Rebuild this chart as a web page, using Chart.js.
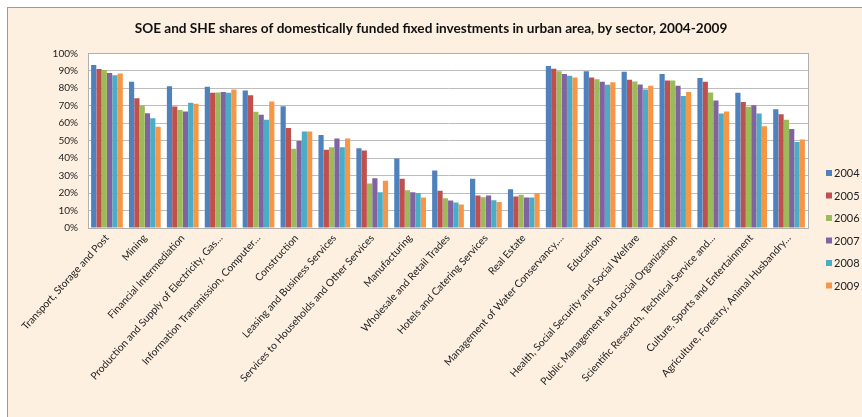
<!DOCTYPE html>
<html><head><meta charset="utf-8">
<script src="https://cdn.jsdelivr.net/npm/chart.js@4/dist/chart.umd.min.js"></script>
<style>
html,body{margin:0;padding:0;background:#fff;width:862px;height:417px;overflow:hidden}
#frame{position:absolute;left:7px;top:7px;width:870px;height:430px;background:#FDF0E1;border-left:1.5px solid #9a9a9a;border-top:1.5px solid #9a9a9a}
#wrap{position:absolute;left:0;top:0;width:862px;height:417px}
</style></head><body>
<div id="frame"></div>
<div id="wrap"><canvas id="c" width="862" height="417"></canvas></div>
<script>
const categories = ["Transport, Storage and Post","Mining","Financial Intermediation","Production and Supply of Electricity, Gas…","Information Transmission, Computer…","Construction","Leasing and Business Services","Services to Households and Other Services","Manufacturing","Wholesale and Retail Trades","Hotels and Catering Services","Real Estate","Management of Water Conservancy,…","Education","Health, Social Security and Social Welfare","Public Management and Social Organization","Scientific Research, Technical Service and…","Culture, Sports and Entertainment","Agriculture, Forestry, Animal Husbandry…"];
const years = ["2004","2005","2006","2007","2008","2009"];
const y2004 = [93.3,83.7,81.2,80.8,78.7,69.7,53.3,45.6,39.8,32.9,28.2,22.2,92.7,89.8,89.5,88.1,85.8,77.4,68.0];
const y2005 = [91.0,74.3,69.5,77.4,76.0,57.3,44.8,44.4,28.2,21.3,18.6,18.0,91.2,86.2,84.9,84.5,83.7,72.2,65.1];
const y2006 = [90.4,70.1,67.6,77.6,66.5,45.4,46.2,25.5,21.6,17.0,17.6,19.0,89.8,85.1,83.9,84.5,77.6,69.4,61.9];
const y2007 = [88.7,65.7,66.7,77.8,64.9,49.8,51.3,28.5,20.5,15.7,18.6,17.4,88.1,83.7,82.2,81.4,73.0,70.3,56.7];
const y2008 = [87.5,62.8,71.7,77.4,61.9,55.3,46.2,20.5,20.1,14.6,15.9,17.4,87.2,82.0,79.3,75.5,65.5,65.5,49.3];
const y2009 = [88.5,58.0,71.1,79.3,72.4,55.3,51.3,27.0,17.4,13.4,14.9,20.1,86.2,83.5,81.4,77.8,66.7,58.2,50.7];
const yTicks = [0,10,20,30,40,50,60,70,80,90,100];
const colors = ["#4F81BD","#C0504D","#9BBB59","#8064A2","#4BACC6","#F79646"];
const series = [y2004,y2005,y2006,y2007,y2008,y2009];

// right-side legend box taking part in Chart.js layout
const sideLegend = {
  id:'sideLegend',
  beforeInit(chart){
    const box = {
      position:'right', weight:1000, fullSize:false, options:{},
      isHorizontal(){ return false; },
      update(maxWidth, maxHeight){ this.width = 54; this.height = maxHeight; return {width:54, height:maxHeight}; },
      getPadding(){ return {top:0,left:0,right:0,bottom:0}; },
      draw(){
        const ctx = chart.ctx;
        ctx.save();
        ctx.font='11px Lato'; ctx.textBaseline='middle';
        chart.data.datasets.forEach((ds,i)=>{
          const cy = 173 + i*22.5;
          ctx.fillStyle = ds.backgroundColor;
          ctx.fillRect(this.left+18, cy-3, 6, 6);
          ctx.fillStyle='#222';
          ctx.fillText(ds.label, this.left+26, cy+0.5);
        });
        ctx.restore();
      }
    };
    Chart.layouts.addBox(chart, box);
  }
};

const plotBg = {
  id:'plotBg',
  beforeDraw(chart){
    const {ctx, chartArea:a} = chart;
    ctx.save(); ctx.fillStyle='#fff'; ctx.fillRect(a.left,a.top,a.right-a.left,a.bottom-a.top); ctx.restore();
  },
  afterDraw(chart){
    const {ctx, chartArea:a} = chart;
    ctx.save(); ctx.strokeStyle='#b0b0b0'; ctx.lineWidth=1;
    ctx.strokeRect(Math.round(a.left)+0.5,Math.round(a.top)+0.5,Math.round(a.right-a.left),Math.round(a.bottom-a.top));
    ctx.restore();
  }
};

new Chart(document.getElementById('c'), {
  type:'bar',
  data:{
    labels: categories,
    datasets: series.map((s,i)=>({label: years[i], data: s, backgroundColor: colors[i], borderWidth:0, categoryPercentage:0.84, barPercentage:0.98}))
  },
  options:{
    responsive:false, animation:false,
    layout:{padding:{left:0,right:0,top:0,bottom:0}},
    plugins:{
      legend:{display:false},
      tooltip:{enabled:false},
      title:{display:true, text:'SOE and SHE shares of domestically funded fixed investments in urban area, by sector, 2004-2009',
        font:{family:'Lato', size:13.6, weight:'bold'}, color:'#111', padding:{top:20,bottom:17}}
    },
    scales:{
      x:{
        grid:{display:false, drawTicks:false},
        border:{display:true,color:'#9a9a9a'},
        ticks:{autoSkip:false, minRotation:48, maxRotation:48, padding:4, color:'#222', font:{family:'Lato', size:10.3}},
        afterFit(scale){ scale.height = 189; }
      },
      y:{
        min:0, max:100,
        afterBuildTicks(scale){ scale.ticks = yTicks.map(v=>({value:v})); },
        grid:{color:'#bdbdbd', drawTicks:false},
        border:{display:true,color:'#9a9a9a'},
        ticks:{padding:10, color:'#222', font:{family:'Lato', size:10}, callback:v=>v+'%'},
        afterFit(scale){ scale.width = 88; }
      }
    }
  },
  plugins:[sideLegend, plotBg]
});
</script>
</body></html>
